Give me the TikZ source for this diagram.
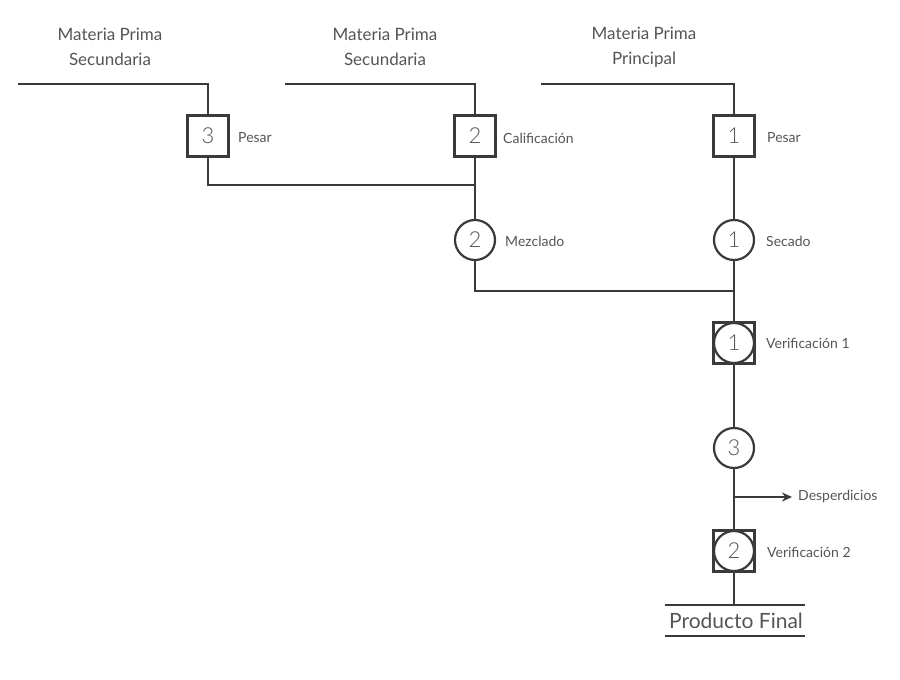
\documentclass[tikz,border=0pt]{standalone}
\usepackage{fontspec}
\setmainfont{Lato}
\newfontfamily\lightfont{Lato Light}
\usetikzlibrary{arrows.meta}
\definecolor{ln}{HTML}{3A3A3A}
\definecolor{tx}{HTML}{555555}
\tikzset{
  flow/.style={draw=ln, line width=2.2pt},
  sqbox/.style={draw=ln, line width=2.2pt, rectangle, minimum size=41pt, inner sep=0pt, fill=white, text=tx, font=\lightfont\fontsize{22}{22}\selectfont},
  circbox/.style={draw=ln, line width=2.2pt, circle, minimum size=40pt, inner sep=0pt, fill=white, text=tx, font=\lightfont\fontsize{22}{22}\selectfont},
  lbl/.style={anchor=west, inner sep=0pt, text=tx, font=\fontsize{14}{14}\selectfont},
  head/.style={align=center, inner sep=0pt, text=tx, font=\fontsize{17}{25}\selectfont},
}
\begin{document}
\begin{tikzpicture}[x=1pt,y=-1pt]
\fill[white] (0,0) rectangle (900,680);
\useasboundingbox (0,0) rectangle (900,680);

% headings
\node[head] (h1) at (110,47) {Materia Prima\\Secundaria};
\node[head] (h2) at (385,47) {Materia Prima\\Secundaria};
\node[head] (h3) at (644,47) {Materia Prima\\Principal};

% start coordinates
\coordinate (s1) at (18,84);
\coordinate (s2) at (285,84);
\coordinate (s3) at (541,84);

% boxes
\node[sqbox] (b3) at (208,136) {3};
\node[sqbox] (b2) at (475,136) {2};
\node[sqbox] (b1) at (734,136) {1};
\node[lbl] (lb3) at (238,138) {Pesar};
\node[lbl] (lb2) at (503,138) {Calificación};
\node[lbl] (lb1) at (767,138) {Pesar};

% circles
\node[circbox] (o2) at (475,240) {2};
\node[circbox] (o1) at (734,240) {1};
\node[lbl] (lo2) at (505,241) {Mezclado};
\node[lbl] (lo1) at (766,241) {Secado};

% verification 1
\node[sqbox] (v1) at (734,343) {};
\node[circbox] (v1c) at (734,343) {1};
\node[lbl] (lv1) at (766,343) {Verificación 1};

% circle 3
\node[circbox] (o3) at (734,448) {3};

% verification 2
\node[sqbox] (v2) at (734,551) {};
\node[circbox] (v2c) at (734,551) {2};
\node[lbl] (lv2) at (767,552) {Verificación 2};

% junctions
\coordinate (j1) at (475,185);
\coordinate (j2) at (734,291);
\coordinate (d0) at (734,497);
\coordinate (d1) at (792,497);
\node[lbl] (ld) at (798,497) {Desperdicios};

\coordinate (p0) at (734,605);
\coordinate (pl1) at (665,605);
\coordinate (pr1) at (805,605);
\coordinate (pl2) at (665,636);
\coordinate (pr2) at (805,636);
\node[inner sep=0pt, text=tx, font=\fontsize{21}{21}\selectfont] (pf) at (736,621) {Producto Final};

% connectors
\draw[flow] (s1) -| (b3);
\draw[flow] (s2) -| (b2);
\draw[flow] (s3) -| (b1);
\draw[flow] (b3) |- (j1);
\draw[flow] (b2) -- (o2);
\draw[flow] (b1) -- (o1);
\draw[flow] (o2) |- (j2);
\draw[flow] (o1) -- (v1);
\draw[flow] (v1) -- (o3);
\draw[flow] (o3) -- (v2);
\draw[flow, -{Stealth[length=10pt,width=9pt]}] (d0) -- (d1);
\draw[flow] (v2) -- (p0);
\draw[flow] (pl1) -- (pr1);
\draw[flow] (pl2) -- (pr2);
\end{tikzpicture}
\end{document}
